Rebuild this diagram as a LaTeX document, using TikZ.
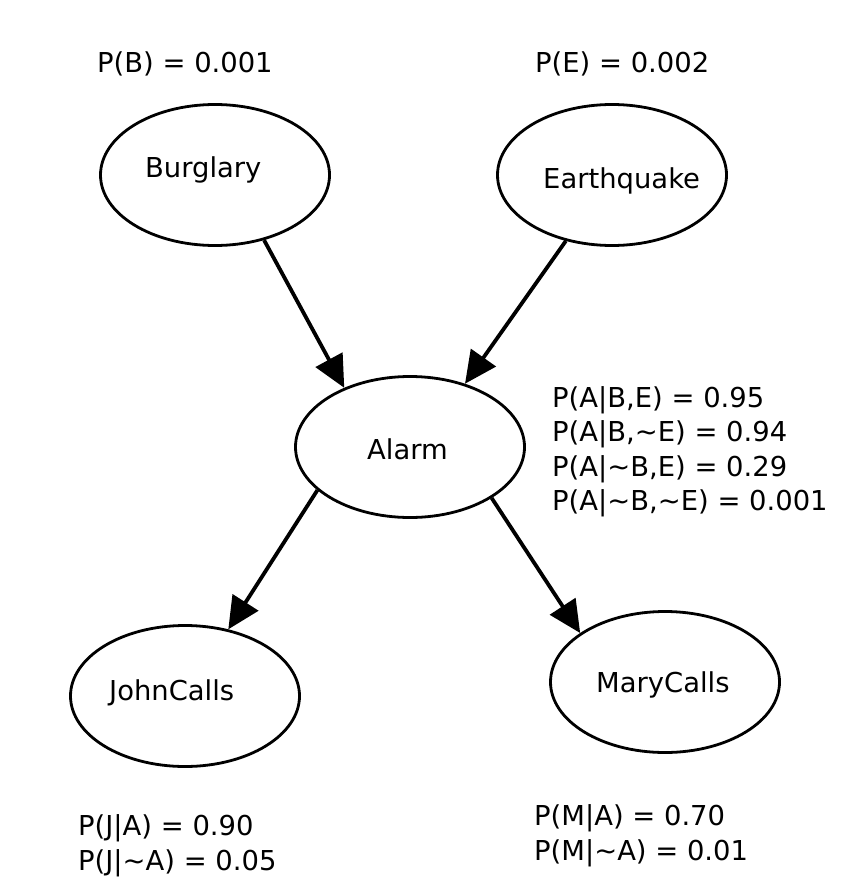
\documentclass[tikz,border=0pt]{standalone}
\usepackage{fontspec}
\setmainfont{DejaVu Sans}
\usetikzlibrary{shapes.geometric,arrows.meta}
\begin{document}
\begin{tikzpicture}[x=1pt,y=-1pt,
  bnode/.style={ellipse, draw, line width=2.8pt, minimum width=229pt, minimum height=141pt, inner sep=0pt},
  lbl/.style={anchor=base west, inner sep=0pt, font=\fontsize{27.4}{34}\selectfont},
  link/.style={line width=3.8pt, -{Triangle[length=32pt,width=30pt]}}]
\useasboundingbox (0,0) rectangle (850,883);
% ellipses
\node[bnode] (B) at (215,175) {};
\node[bnode] (E) at (612,175) {};
\node[bnode] (A) at (410,447) {};
\node[bnode] (J) at (185,696) {};
\node[bnode] (M) at (665,682) {};
% names
\node[lbl] (Bt) at (145,177) {Burglary};
\node[lbl] (Et) at (543,188) {Earthquake};
\node[lbl] (At) at (367,459) {Alarm};
\node[lbl] (Jt) at (109,700) {JohnCalls};
\node[lbl] (Mt) at (596,692) {MaryCalls};
% probabilities
\node[lbl] (pB) at (97,72) {P(B) = 0.001};
\node[lbl] (pE) at (535,72) {P(E) = 0.002};
\node[lbl] (pA1) at (552,407) {P(A|B,E) = 0.95};
\node[lbl] (pA2) at (552,441) {P(A|B,\textasciitilde E) = 0.94};
\node[lbl] (pA3) at (552,476) {P(A|\textasciitilde B,E) = 0.29};
\node[lbl] (pA4) at (552,510) {P(A|\textasciitilde B,\textasciitilde E) = 0.001};
\node[lbl] (pJ1) at (78,835) {P(J|A) = 0.90};
\node[lbl] (pJ2) at (78,870) {P(J|\textasciitilde A) = 0.05};
\node[lbl] (pM1) at (534,825) {P(M|A) = 0.70};
\node[lbl] (pM2) at (534,860) {P(M|\textasciitilde A) = 0.01};
% edges
\draw[link] (B.-53) -- (A.138);
\draw[link] (E.-125) -- (A.49);
\draw[link] (A.-155) -- (J.57);
\draw[link] (A.-32) -- (M.150);
\end{tikzpicture}
\end{document}
